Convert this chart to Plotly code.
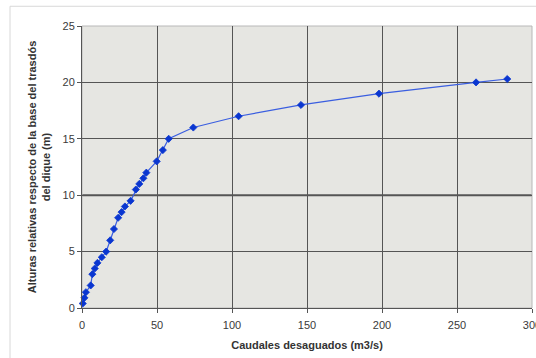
import plotly.graph_objects as go

caudal = [0.5, 1.6, 2.6, 5.8, 6.9, 8.5, 10.3, 13.2, 16.1, 18.8, 21.3, 24.1, 26.4, 28.6, 32.4,
          35.9, 38.2, 40.9, 42.9, 49.8, 53.9, 57.8, 74.2, 104.4, 146.0, 198.0, 262.7, 283.5]
altura = [0.4, 0.9, 1.4, 2.0, 3.0, 3.5, 4.0, 4.5, 5.0, 6.0, 7.0, 8.0, 8.5, 9.0, 9.5,
          10.5, 11.0, 11.5, 12.0, 13.0, 14.0, 15.0, 16.0, 17.0, 18.0, 19.0, 20.0, 20.3]

x_ticks = [0, 50, 100, 150, 200, 250, 300]
y_ticks = [0, 5, 10, 15, 20, 25]

FONT = "Liberation Sans, Arial, sans-serif"

fig = go.Figure()
fig.add_trace(go.Scatter(
    x=caudal, y=altura, mode="lines+markers",
    line=dict(color="#3a5ee0", width=1.2),
    marker=dict(symbol="diamond", size=5.5, color="#0a36d0",
                line=dict(color="#0a36d0", width=0.8)),
    showlegend=False, cliponaxis=False,
))

fig.add_hline(y=10, line=dict(color="#555555", width=2), layer="below")

# outer chart frame
fig.add_shape(type="line", xref="paper", yref="paper", x0=-0.16, x1=1.1, y0=1.07, y1=1.07,
              line=dict(color="#d8d8d8", width=1))
fig.add_shape(type="line", xref="paper", yref="paper", x0=-0.16, x1=-0.16, y0=1.07, y1=-0.2,
              line=dict(color="#d8d8d8", width=1))
# plot border top/right
fig.add_shape(type="rect", xref="paper", yref="paper", x0=0, x1=1, y0=0, y1=1,
              line=dict(color="#b8b8b8", width=1), layer="below")

fig.update_layout(
    width=536, height=358,
    margin=dict(l=82, r=4, t=26, b=50, autoexpand=False),
    paper_bgcolor="white", plot_bgcolor="#e6e6e2",
    font=dict(family=FONT, size=11, color="#3a3a3a"),
)
fig.update_xaxes(
    range=[0, 300], tickvals=x_ticks, ticktext=[str(v) for v in x_ticks],
    showgrid=True, gridcolor="#555555", gridwidth=1,
    showline=True, linecolor="#555555", linewidth=1,
    ticks="outside", ticklen=4, tickcolor="#555555",
    zeroline=False, ticklabeloverflow="allow", ticklabelstandoff=3, automargin=False,
    tickfont=dict(size=11, color="#3a3a3a"),
    title=dict(text="<b>Caudales desaguados (m3/s)</b>", font=dict(size=11, color="#333333"), standoff=11),
)
fig.update_yaxes(
    range=[0, 25], tickvals=y_ticks, ticktext=[str(v) for v in y_ticks],
    showgrid=True, gridcolor="#555555", gridwidth=1,
    showline=True, linecolor="#555555", linewidth=1,
    ticks="outside", ticklen=4, tickcolor="#555555",
    zeroline=False, automargin=False,
    tickfont=dict(size=11, color="#3a3a3a"),
    title=dict(text="<b>Alturas relativas respecto de la base del trasdós<br>del dique (m)</b>",
               font=dict(size=11, color="#333333"), standoff=9),
)

fig.write_html("out.html")
